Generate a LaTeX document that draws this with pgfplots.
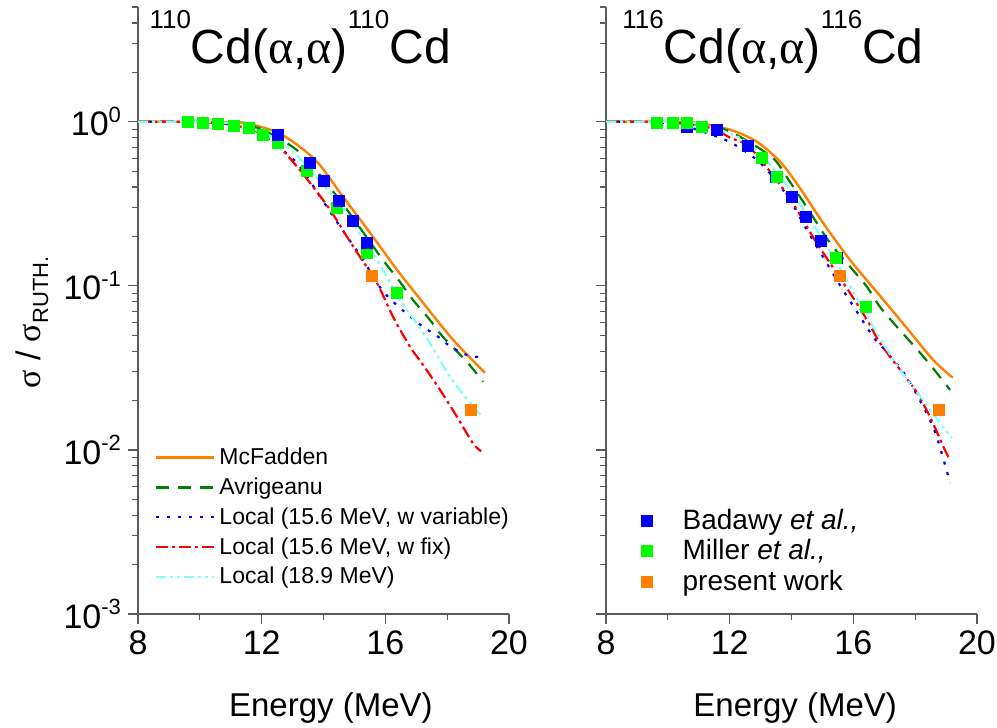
\documentclass[border=0pt]{standalone}
\usepackage{pgfplots}
\pgfplotsset{compat=1.18}
\usepackage{fontspec}
\setmainfont{Liberation Sans}
\newfontfamily\symb{Liberation Serif}

\definecolor{cOr}{RGB}{255,128,0}
\definecolor{cGr}{RGB}{0,128,0}
\definecolor{cBl}{RGB}{0,0,255}
\definecolor{cRd}{RGB}{255,0,0}
\definecolor{cCy}{RGB}{128,255,255}
\definecolor{mGr}{RGB}{0,255,0}
\definecolor{axc}{RGB}{90,90,90}

\newcommand\tpow[1]{10\raisebox{0.75ex}{\fontsize{11}{11}\selectfont #1}}
\newcommand\iso[1]{\raisebox{0.72em}{\fontsize{13}{13}\selectfont #1}}

\begin{document}
\begin{tikzpicture}
\useasboundingbox (-69pt,-57pt) rectangle (429.5pt,307pt);

% ---------------- left panel: 110Cd ----------------
\begin{axis}[at={(0pt,0pt)}, anchor=south west,
  scale only axis, width=185.5pt, height=303.5pt,
  xmin=8, xmax=20, ymode=log, ymin=1e-3, ymax=5,
  axis lines*=left, axis line style={axc, line width=0.7pt},
  every tick/.style={axc, line width=0.6pt},
  tick align=outside,
  major tick length=5pt, minor tick length=3pt,
  xtick={8,12,16,20}, xticklabels={8,12,16,20},
  minor xtick={10,14,18},
  ytick={1e-3,1e-2,1e-1,1},
  minor ytick={2e-3,3e-3,4e-3,5e-3,6e-3,7e-3,8e-3,9e-3,2e-2,3e-2,4e-2,5e-2,6e-2,7e-2,8e-2,9e-2,0.2,0.3,0.4,0.5,0.6,0.7,0.8,0.9,2,3,4,5},
  tick label style={font=\fontsize{17}{17}\selectfont},
  xlabel={Energy (MeV)},
  xlabel style={font=\fontsize{16.5}{16.5}\selectfont, at={(axis description cs:0.52,0)}, anchor=center, yshift=-47pt},
  yticklabels={\tpow{-3},\tpow{-2},\tpow{-1},\tpow{0}},
  ylabel={{\symb σ} / {\symb σ}\raisebox{-0.45ex}{\fontsize{11}{11}\selectfont RUTH.}},
  ylabel style={font=\fontsize{17}{17}\selectfont, at={(axis description cs:-0.286,0.48)}, anchor=center},
  legend image code/.code={\draw[#1] (0pt,0pt) -- (29pt,0pt);},
  legend style={draw=none, fill=none, inner sep=0pt, cells={anchor=west}, row sep=1.1pt,
     at={(rel axis cs:0.045,0.281)}, anchor=north west, font=\fontsize{11.5}{13}\selectfont},
]
\addplot[only marks, mark=square*, mark size=2.75pt, mark options={solid, fill=mGr, draw=mGr, line width=0.2pt}, forget plot] coordinates {(9.62,1.0) (10.10,0.986) (10.59,0.97) (11.10,0.945) (11.59,0.915) (12.04,0.833) (12.53,0.745) (13.47,0.503) (14.44,0.299) (15.41,0.159) (16.38,0.0906)};
\addplot[only marks, mark=square*, mark size=2.75pt, mark options={solid, fill=cBl, draw=cBl, line width=0.2pt}, forget plot] coordinates {(12.53,0.833) (13.56,0.562) (14.02,0.437) (14.50,0.330) (14.95,0.249) (15.41,0.183)};
\addplot[only marks, mark=square*, mark size=2.75pt, mark options={solid, fill=cOr, draw=cOr, line width=0.2pt}, forget plot] coordinates {(15.57,0.115) (18.77,0.0175)};

\addplot[smooth, color=cOr, solid, line width=1.2pt] coordinates {(8,1) (9,1) (10,0.999) (10.7,0.995) (11.4,0.986) (12.27,0.894) (12.92,0.776) (13.79,0.570) (14.63,0.349) (15.50,0.211) (16.38,0.125) (17.22,0.0788) (18.19,0.0469) (19.22,0.0295)};
\addlegendentry{McFadden}
\addplot[smooth, color=cGr, line width=1.1pt, dash pattern=on 6.5pt off 4.5pt] coordinates {(8,1) (9,1) (10,0.998) (11,0.97) (11.53,0.935) (12.04,0.894) (13.24,0.647) (14.47,0.344) (15.41,0.196) (15.92,0.144) (16.47,0.106) (16.89,0.0822) (17.44,0.0621) (17.86,0.0489) (18.64,0.0344) (19.16,0.026)};
\addlegendentry{Avrigeanu}
\addplot[smooth, color=cBl, line width=1.1pt, dash pattern=on 1.5pt off 4pt] coordinates {(8,1) (9,1) (10,0.995) (11,0.96) (11.85,0.869) (12.59,0.690) (13.14,0.562) (13.63,0.415) (14.21,0.283) (14.79,0.196) (15.28,0.144) (15.73,0.104) (16.09,0.0857) (16.47,0.0734) (16.86,0.0638) (17.22,0.0562) (17.67,0.0496) (18.03,0.0437) (18.41,0.0396) (18.83,0.0369) (19.19,0.0374)};
\addlegendentry{Local (15.6 MeV, w variable)}
\addplot[smooth, color=cRd, line width=1.1pt, dash pattern=on 6pt off 2pt on 1.5pt off 2pt] coordinates {(8,1) (9,1) (10,0.995) (11,0.96) (11.85,0.869) (12.50,0.724) (13.01,0.570) (13.56,0.425) (14.21,0.291) (14.76,0.199) (15.18,0.150) (15.73,0.104) (16.25,0.0647) (16.80,0.0425) (17.22,0.033) (17.77,0.0232) (18.32,0.0159) (18.83,0.0110) (19.1,0.0098)};
\addlegendentry{Local (15.6 MeV, w fix)}
\addplot[smooth, color=cCy, line width=1.1pt, dash pattern=on 5pt off 2pt on 1.5pt off 2pt on 1.5pt off 2pt] coordinates {(8,1) (9,1) (10,0.997) (11,0.975) (12,0.86) (12.82,0.704) (13.34,0.570) (14.21,0.369) (14.63,0.303) (15.08,0.219) (15.50,0.171) (15.92,0.125) (16.38,0.088) (16.89,0.0635) (17.44,0.0449) (18.09,0.0279) (18.74,0.0194) (19.16,0.0157)};
\addlegendentry{Local (18.9 MeV)}

\node[anchor=north west, inner sep=0pt, font=\fontsize{24}{24}\selectfont] at (rel axis cs:0.03,0.995) {\iso{110}Cd({\symb α},{\symb α})\iso{110}Cd};
\end{axis}

% ---------------- right panel: 116Cd ----------------
\begin{axis}[at={(234pt,0pt)}, anchor=south west,
  scale only axis, width=185.5pt, height=303.5pt,
  xmin=8, xmax=20, ymode=log, ymin=1e-3, ymax=5,
  axis lines*=left, axis line style={axc, line width=0.7pt},
  every tick/.style={axc, line width=0.6pt},
  tick align=outside,
  major tick length=5pt, minor tick length=3pt,
  xtick={8,12,16,20}, xticklabels={8,12,16,20},
  minor xtick={10,14,18},
  ytick={1e-3,1e-2,1e-1,1},
  minor ytick={2e-3,3e-3,4e-3,5e-3,6e-3,7e-3,8e-3,9e-3,2e-2,3e-2,4e-2,5e-2,6e-2,7e-2,8e-2,9e-2,0.2,0.3,0.4,0.5,0.6,0.7,0.8,0.9,2,3,4,5},
  tick label style={font=\fontsize{17}{17}\selectfont},
  xlabel={Energy (MeV)},
  xlabel style={font=\fontsize{16.5}{16.5}\selectfont, at={(axis description cs:0.51,0)}, anchor=center, yshift=-47pt},
  yticklabels={},
  legend image code/.code={\draw[#1] plot coordinates {(6pt,0pt)}; \path (0pt,0pt) (22pt,0pt);},
  legend style={draw=none, fill=none, inner sep=0pt, cells={anchor=west}, row sep=-0.5pt,
     at={(rel axis cs:0.074,0.18)}, anchor=north west, font=\fontsize{14}{15}\selectfont},
]
\addplot[only marks, mark=square*, mark size=2.75pt, mark options={solid, fill=cBl, draw=cBl, line width=0.2pt}] coordinates {(10.62,0.928) (11.59,0.894) (12.59,0.714) (13.50,0.462) (14.02,0.349) (14.47,0.263) (14.95,0.188) (15.47,0.148)};
\addlegendentry{Badawy \textit{et al.,}}
\addplot[only marks, mark=square*, mark size=2.75pt, mark options={solid, fill=mGr, draw=mGr, line width=0.2pt}] coordinates {(9.65,0.986) (10.17,0.986) (10.62,0.99) (11.10,0.936) (13.05,0.60) (13.53,0.46) (15.44,0.148) (16.41,0.0745)};
\addlegendentry{Miller \textit{et al.,}}
\addplot[only marks, mark=square*, mark size=2.75pt, mark options={solid, fill=cOr, draw=cOr, line width=0.2pt}] coordinates {(15.57,0.115) (18.77,0.0175)};
\addlegendentry{present work}

\addplot[smooth, color=cOr, solid, line width=1.2pt, forget plot] coordinates {(8,1) (9,1) (10,0.999) (10.94,0.986) (12.01,0.894) (12.88,0.755) (13.63,0.570) (14.21,0.41) (15.02,0.242) (15.89,0.144) (16.76,0.0916) (17.51,0.0621) (18.58,0.0354) (19.22,0.0275)};
\addplot[smooth, color=cGr, line width=1.1pt, dash pattern=on 6.5pt off 4.5pt, forget plot] coordinates {(8,1) (9,1) (10,0.995) (11,0.96) (11.59,0.93) (12.33,0.81) (13.40,0.60) (13.95,0.43) (14.50,0.30) (15.24,0.183) (15.89,0.131) (16.44,0.0986) (16.86,0.0745) (17.41,0.0562) (17.99,0.0425) (18.54,0.0321) (19.13,0.0232)};
\addplot[smooth, color=cBl, line width=1.1pt, dash pattern=on 1.5pt off 4pt, forget plot] coordinates {(8,1) (9,0.998) (10,0.98) (10.9,0.90) (11.85,0.776) (12.27,0.704) (12.66,0.63) (13.05,0.547) (13.47,0.443) (13.95,0.334) (14.50,0.219) (15.02,0.150) (15.66,0.0946) (16.12,0.0694) (16.64,0.0489) (16.96,0.0419) (17.28,0.0354) (17.61,0.0299) (18.09,0.0211) (18.64,0.0129) (19.13,0.0063)};
\addplot[smooth, color=cRd, line width=1.1pt, dash pattern=on 6pt off 2pt on 1.5pt off 2pt, forget plot] coordinates {(8,1) (9,1) (10,0.995) (11.36,0.918) (12.01,0.80) (12.66,0.694) (13.63,0.413) (14.18,0.290) (14.69,0.199) (15.24,0.138) (15.89,0.0906) (16.44,0.0621) (16.86,0.0449) (17.51,0.0308) (18.06,0.0223) (18.48,0.0159) (18.96,0.0100) (19.13,0.0087)};
\addplot[smooth, color=cCy, line width=1.1pt, dash pattern=on 5pt off 2pt on 1.5pt off 2pt on 1.5pt off 2pt, forget plot] coordinates {(8,1) (9,1) (10,0.997) (11,0.97) (12.43,0.776) (13.53,0.489) (14.50,0.271) (15.47,0.138) (16.0,0.092) (16.86,0.0482) (17.51,0.0308) (18.25,0.0202) (18.80,0.0146) (19.19,0.0118)};

\node[anchor=north west, inner sep=0pt, font=\fontsize{24}{24}\selectfont] at (rel axis cs:0.043,0.995) {\iso{116}Cd({\symb α},{\symb α})\iso{116}Cd};
\end{axis}
\end{tikzpicture}
\end{document}
